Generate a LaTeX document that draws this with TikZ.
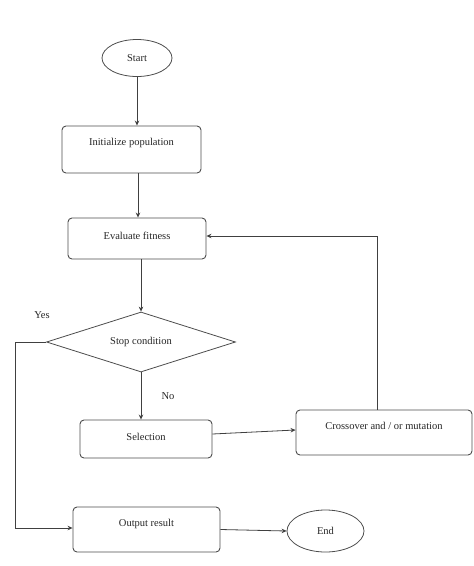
\documentclass[tikz,border=0pt]{standalone}
\usepackage{fontspec}
\setmainfont{Liberation Serif}
\usetikzlibrary{shapes.geometric,arrows.meta}
\begin{document}
\begin{tikzpicture}[x=1pt,y=-1pt,
  box/.style={draw=black!70, line width=0.9pt, rounded corners=4pt, inner sep=0pt},
  oval/.style={ellipse, draw=black!70, line width=0.8pt, inner sep=0pt},
  dia/.style={diamond, draw=black!70, line width=0.8pt, inner sep=0pt, aspect=3.15},
  txt/.style={font=\fontsize{10.5}{12}\selectfont, text=black!85, inner sep=0pt},
  arr/.style={draw=black!75, line width=0.8pt, -{Stealth[length=5pt,width=4.5pt]}},
  ln/.style={draw=black!75, line width=0.8pt}]
\useasboundingbox (0,0) rectangle (474,566);

\node[oval, minimum width=70, minimum height=37] (start) at (137,58) {};
\node[txt] (startT) at (137,58) {Start};

\node[box, minimum width=139, minimum height=47] (init) at (131.5,149.5) {};
\node[txt] (initT) at (131.5,143) {Initialize population};

\node[box, minimum width=138, minimum height=41] (eval) at (137,238.5) {};
\node[txt] (evalT) at (137,236) {Evaluate fitness};

\node[dia, minimum width=189, minimum height=60] (stop) at (141,342) {};
\node[txt] (stopT) at (141,342) {Stop condition};

\node[txt] (yes) at (42,315) {Yes};
\node[txt] (no) at (168,396) {No};

\node[box, minimum width=132, minimum height=38] (sel) at (146,439) {};
\node[txt] (selT) at (146,437) {Selection};

\node[box, minimum width=176, minimum height=45] (cross) at (384,432.5) {};
\node[txt] (crossT) at (384,426) {Crossover and / or mutation};

\node[box, minimum width=147, minimum height=45] (out) at (146.5,529.5) {};
\node[txt] (outT) at (146.5,524) {Output result};

\node[oval, minimum width=77, minimum height=42] (endn) at (325.5,531) {};
\node[txt] (endT) at (325.5,531) {End};

\coordinate (c1) at (15,342);
\coordinate (c2) at (15,528);
\coordinate (c3) at (377,236);

\draw[arr] (start.south) -- (start.south |- init.north);
\draw[arr] (init.south -| 138,0) -- (eval.north -| 138,0);
\draw[arr] (eval.south -| stop.north) -- (stop.north);
\draw[arr] (stop.south) -- (sel.north -| stop.south);
\draw[arr] (sel.east |- 0,434) -- (cross.west |- 0,430);
\draw[ln] (stop.west) -- (c1) -- (c2);
\draw[arr] (c2) -- (out.west |- c2);
\draw[arr] (out.east) -- (endn.west);
\draw[ln] (cross.north -| c3) -- (c3);
\draw[arr] (c3) -- (eval.east |- c3);
\end{tikzpicture}
\end{document}
